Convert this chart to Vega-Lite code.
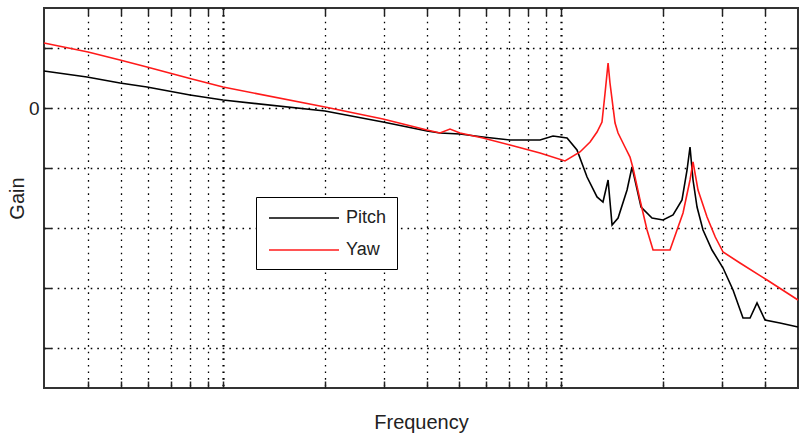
{
  "$schema": "https://vega.github.io/schema/vega-lite/v6.json",
  "width": 754,
  "height": 380,
  "autosize": {"type": "none"},
  "padding": {"left": 44, "top": 8, "right": 1, "bottom": 56},
  "background": "white",
  "config": {
    "view": {"stroke": "#333", "strokeWidth": 2},
    "font": "Liberation Sans"
  },
  "datasets": {
    "curves": [
      {"f": 0.2954, "g": 6.17, "s": "Pitch"},
      {"f": 0.3959, "g": 5.17, "s": "Pitch"},
      {"f": 0.4957, "g": 4.17, "s": "Pitch"},
      {"f": 0.5957, "g": 3.5, "s": "Pitch"},
      {"f": 0.7988, "g": 2.17, "s": "Pitch"},
      {"f": 1.0, "g": 1.33, "s": "Pitch"},
      {"f": 2.003, "g": -0.5, "s": "Pitch"},
      {"f": 2.974, "g": -2.33, "s": "Pitch"},
      {"f": 4.014, "g": -3.83, "s": "Pitch"},
      {"f": 4.385, "g": -4.17, "s": "Pitch"},
      {"f": 5.025, "g": -4.33, "s": "Pitch"},
      {"f": 5.877, "g": -4.83, "s": "Pitch"},
      {"f": 7.066, "g": -5.33, "s": "Pitch"},
      {"f": 8.667, "g": -5.33, "s": "Pitch"},
      {"f": 9.47, "g": -4.67, "s": "Pitch"},
      {"f": 10.42, "g": -5.0, "s": "Pitch"},
      {"f": 11.15, "g": -7.0, "s": "Pitch"},
      {"f": 11.94, "g": -11.5, "s": "Pitch"},
      {"f": 12.78, "g": -14.83, "s": "Pitch"},
      {"f": 13.31, "g": -15.67, "s": "Pitch"},
      {"f": 13.78, "g": -12.0, "s": "Pitch"},
      {"f": 14.16, "g": -19.5, "s": "Pitch"},
      {"f": 14.75, "g": -18.33, "s": "Pitch"},
      {"f": 15.68, "g": -13.67, "s": "Pitch"},
      {"f": 16.22, "g": -9.83, "s": "Pitch"},
      {"f": 17.25, "g": -16.5, "s": "Pitch"},
      {"f": 18.59, "g": -18.33, "s": "Pitch"},
      {"f": 20.04, "g": -18.67, "s": "Pitch"},
      {"f": 21.45, "g": -17.83, "s": "Pitch"},
      {"f": 22.8, "g": -15.33, "s": "Pitch"},
      {"f": 23.6, "g": -10.33, "s": "Pitch"},
      {"f": 24.08, "g": -6.5, "s": "Pitch"},
      {"f": 24.58, "g": -12.0, "s": "Pitch"},
      {"f": 25.26, "g": -16.5, "s": "Pitch"},
      {"f": 26.31, "g": -20.33, "s": "Pitch"},
      {"f": 27.97, "g": -23.67, "s": "Pitch"},
      {"f": 30.16, "g": -26.67, "s": "Pitch"},
      {"f": 32.28, "g": -30.33, "s": "Pitch"},
      {"f": 34.55, "g": -35.0, "s": "Pitch"},
      {"f": 36.25, "g": -35.0, "s": "Pitch"},
      {"f": 38.01, "g": -32.5, "s": "Pitch"},
      {"f": 40.14, "g": -35.33, "s": "Pitch"},
      {"f": 44.45, "g": -35.83, "s": "Pitch"},
      {"f": 50.25, "g": -36.5, "s": "Pitch"},
      {"f": 0.2954, "g": 10.83, "s": "Yaw"},
      {"f": 0.3988, "g": 9.33, "s": "Yaw"},
      {"f": 0.4957, "g": 8.0, "s": "Yaw"},
      {"f": 0.5957, "g": 6.83, "s": "Yaw"},
      {"f": 0.7988, "g": 4.92, "s": "Yaw"},
      {"f": 1.0, "g": 3.5, "s": "Yaw"},
      {"f": 2.003, "g": 0.17, "s": "Yaw"},
      {"f": 2.974, "g": -1.83, "s": "Yaw"},
      {"f": 4.014, "g": -3.67, "s": "Yaw"},
      {"f": 4.385, "g": -4.17, "s": "Yaw"},
      {"f": 4.694, "g": -3.5, "s": "Yaw"},
      {"f": 5.025, "g": -4.17, "s": "Yaw"},
      {"f": 5.877, "g": -5.0, "s": "Yaw"},
      {"f": 7.066, "g": -6.17, "s": "Yaw"},
      {"f": 8.667, "g": -7.5, "s": "Yaw"},
      {"f": 10.275, "g": -8.83, "s": "Yaw"},
      {"f": 11.38, "g": -7.33, "s": "Yaw"},
      {"f": 12.19, "g": -5.67, "s": "Yaw"},
      {"f": 12.78, "g": -4.0, "s": "Yaw"},
      {"f": 13.22, "g": -2.33, "s": "Yaw"},
      {"f": 13.5, "g": 2.5, "s": "Yaw"},
      {"f": 13.78, "g": 7.5, "s": "Yaw"},
      {"f": 13.96, "g": 4.17, "s": "Yaw"},
      {"f": 14.45, "g": -2.5, "s": "Yaw"},
      {"f": 14.75, "g": -4.17, "s": "Yaw"},
      {"f": 15.46, "g": -6.5, "s": "Yaw"},
      {"f": 16.0, "g": -8.17, "s": "Yaw"},
      {"f": 16.33, "g": -10.0, "s": "Yaw"},
      {"f": 17.13, "g": -15.33, "s": "Yaw"},
      {"f": 17.97, "g": -20.33, "s": "Yaw"},
      {"f": 18.72, "g": -23.67, "s": "Yaw"},
      {"f": 21.01, "g": -23.67, "s": "Yaw"},
      {"f": 22.96, "g": -17.5, "s": "Yaw"},
      {"f": 24.08, "g": -12.0, "s": "Yaw"},
      {"f": 24.58, "g": -9.0, "s": "Yaw"},
      {"f": 25.43, "g": -13.67, "s": "Yaw"},
      {"f": 27.04, "g": -18.17, "s": "Yaw"},
      {"f": 28.6, "g": -21.5, "s": "Yaw"},
      {"f": 30.16, "g": -24.0, "s": "Yaw"},
      {"f": 33.85, "g": -25.83, "s": "Yaw"},
      {"f": 40.7, "g": -28.67, "s": "Yaw"},
      {"f": 50.25, "g": -32.0, "s": "Yaw"}
    ]
  },
  "data": {"name": "curves"},
  "layer": [
    {
      "mark": {"type": "line", "strokeWidth": 1.6},
      "encoding": {
        "x": {
          "field": "f", "type": "quantitative",
          "scale": {"type": "log", "domain": [0.2954, 50.25], "nice": false},
          "axis": {
            "orient": "bottom",
            "values": [0.4, 0.5, 0.6, 0.7, 0.8, 0.9, 1, 2, 3, 4, 5, 6, 7, 8, 9, 10, 20, 30, 40],
            "labels": false,
            "tickSize": -7, "tickColor": "#222", "tickWidth": 1.5,
            "grid": true, "gridColor": "#000", "gridDash": [1.6, 5],
            "gridWidth": {"condition": {"test": "datum.value == 1 || datum.value == 10", "value": 2.2}, "value": 1.3},
            "domain": false,
            "title": "Frequency", "titleFontSize": 20, "titleFontWeight": "normal", "titleColor": "#222",
            "titlePadding": 24
          }
        },
        "y": {
          "field": "g", "type": "quantitative",
          "scale": {"domain": [-46.67, 16.67], "nice": false, "zero": false},
          "axis": {
            "orient": "left",
            "values": [-40, -30, -20, -10, 0, 10],
            "labelExpr": "datum.value == 0 ? '0' : ''",
            "labelFontSize": 19, "labelColor": "#222", "labelPadding": 12,
            "tickSize": -7, "tickColor": "#222", "tickWidth": 1.5,
            "grid": true, "gridColor": "#000", "gridDash": [1.6, 5], "gridWidth": 1.3,
            "domain": false,
            "title": "Gain", "titleFontSize": 20, "titleFontWeight": "normal", "titleColor": "#222",
            "titlePadding": 1
          }
        },
        "color": {
          "field": "s", "type": "nominal",
          "scale": {"domain": ["Pitch", "Yaw"], "range": ["#000000", "#ff1a1a"]},
          "legend": {
            "orient": "none", "legendX": 212, "legendY": 189,
            "title": null,
            "symbolType": "M-0.8,0H6.2",
            "symbolSize": 400,
            "symbolStrokeWidth": 1.6,
            "labelFontSize": 18, "labelColor": "#222",
            "labelOffset": 58,
            "padding": 10,
            "rowPadding": 12,
            "strokeColor": "#000",
            "fillColor": "#fff"
          }
        }
      }
    },
    {
      "mark": {"type": "line", "opacity": 0},
      "encoding": {
        "x": {
          "field": "f", "type": "quantitative",
          "scale": {"type": "log", "domain": [0.2954, 50.25], "nice": false},
          "axis": {
            "orient": "top",
            "values": [0.4, 0.5, 0.6, 0.7, 0.8, 0.9, 1, 2, 3, 4, 5, 6, 7, 8, 9, 10, 20, 30, 40],
            "labels": false, "grid": false, "domain": false, "title": null,
            "tickSize": -7, "tickColor": "#222", "tickWidth": 1.5
          }
        },
        "y": {
          "field": "g", "type": "quantitative",
          "scale": {"domain": [-46.67, 16.67], "nice": false, "zero": false},
          "axis": {
            "orient": "right",
            "values": [-40, -30, -20, -10, 0, 10],
            "labels": false, "grid": false, "domain": false, "title": null,
            "tickSize": -7, "tickColor": "#222", "tickWidth": 1.5
          }
        },
        "detail": {"field": "s", "type": "nominal"}
      }
    }
  ],
  "resolve": {"axis": {"x": "independent", "y": "independent"}}
}
